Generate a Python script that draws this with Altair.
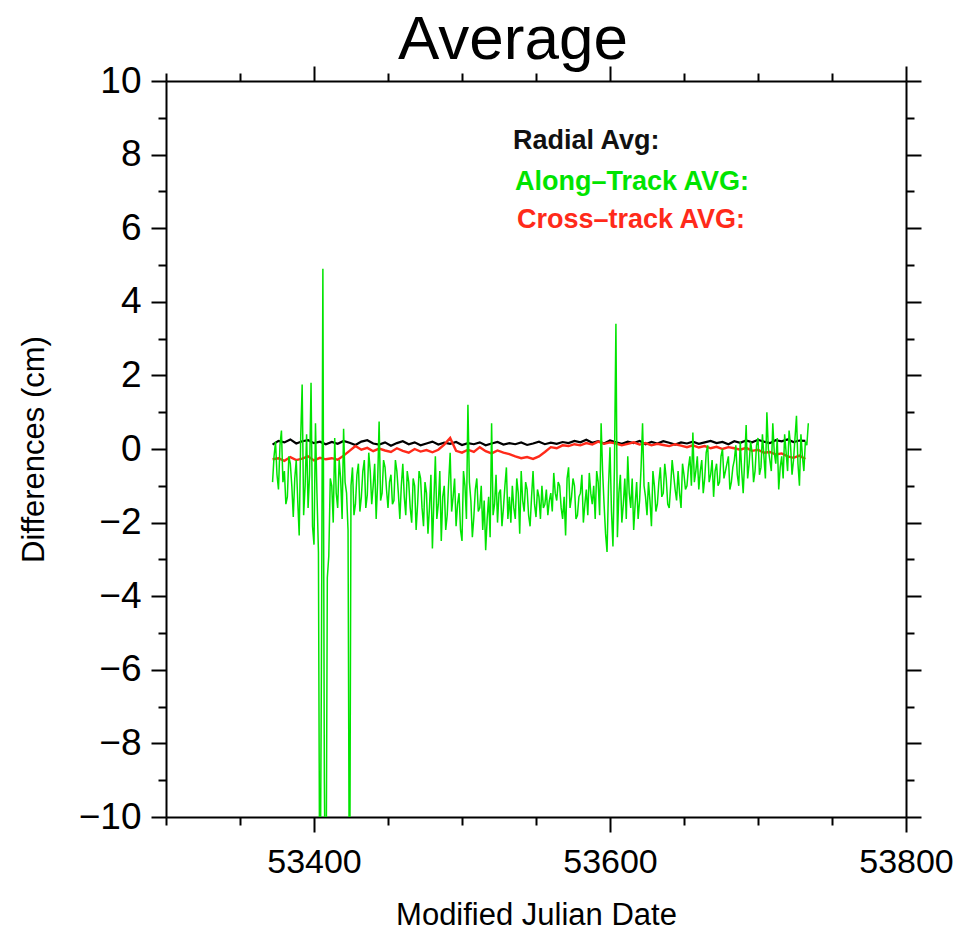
import altair as alt
import pandas as pd

# ---------------- data ----------------
# Along-track average, even-numbered days 53372..53734
along_days_even = list(range(53372, 53735, 2))
along_even = [
    -0.9, 0.2, -1.1, 0.5, -0.6, -1.3, -0.4, -1.85, -0.3, -2.35,
    1.75, -1.0, -1.6, 1.8, -2.6, -1.2, -14.0, 4.9, -14.0, -2.9,
    -1.0, 0.3, -1.6, -0.8, 0.55, -1.2, -14.0, -0.5, -1.5, -0.4,
    -1.3, -0.3, -1.25, -0.6, -1.0, -1.9, 0.75, -1.2, -0.5, -1.6,
    -0.7, -1.4, -0.6, -1.9, -0.4, -1.8, -0.9, -2.0, -1.0, -1.5,
    -0.8, -2.1, -1.2, -1.6, -2.7, -0.2, -1.5, -2.5, -1.0, -1.8,
    -0.1, -1.3, -2.1, -1.2, -2.5, -1.0, 1.2, -1.4, -1.85, -0.8,
    -1.6, -2.2, -2.75, -1.3, 0.7, -1.5, -2.0, -1.1, -1.6, -0.5,
    -1.3, -1.0, -1.9, -1.2, -0.6, -1.7, -1.1, -2.1, -0.6, -1.85,
    -1.3, -1.0, -1.5, -1.8, -1.2, -0.65, -1.4, -1.0, -1.9, -2.35,
    -0.5, -1.3, -1.0, -1.8, -1.2, -2.0, -1.1, -0.65, -1.5, -1.9,
    -0.9, 0.7, -1.5, -2.8, 0.05, -2.65, 3.4, -1.2, -2.0, -0.8,
    -0.2, -1.6, -2.2, -0.9, -1.4, 0.7, -1.3, -0.9, -2.1, -1.0,
    -1.5, -0.5, -1.2, -0.8, -1.6, -0.3, -1.1, -0.6, -1.6, -0.7,
    -1.0, -0.2, 0.45, -0.6, -1.1, -0.3, -0.8, 0.1, -0.7, -1.3,
    -0.4, -0.9, 0.0, -0.6, -0.2, -0.9, -0.3, -0.7, 0.2, -1.2,
    0.65, -0.4, -0.1, -0.6, 0.3, -0.5, -0.2, 1.0, -0.3, 0.7,
    -0.4, -1.1, -0.2, 0.4, -0.6, 0.1, -0.3, 0.9, -1.0, -0.2, 0.2, 0.7,
]
# Along-track average, odd-numbered days 53373..53733
along_days_odd = list(range(53373, 53734, 2))
along_odd = [
    -0.2, -0.7, 0.1, -0.9, -1.5, -0.2, -1.0, -0.8, -1.4, 0.3,
    -1.8, 0.4, -0.7, -2.1, 0.7, -2.8, -6.0, -9.0, -3.5, -0.8,
    -2.0, -1.2, -0.3, -1.9, -0.9, -2.2, -1.0, -1.8, -0.7, -1.7,
    -0.6, -1.6, -0.1, -1.5, -0.4, -0.9, -1.4, -0.3, -1.1, -0.9,
    -1.5, -0.3, -1.2, -1.0, -1.3, -0.6, -1.6, -0.8, -2.2, -0.6,
    -1.6, -0.9, -2.3, -0.7, -1.4, -1.9, -0.6, -1.3, -2.2, -0.9,
    -1.7, -0.8, -1.5, -2.2, -0.6, -1.9, -0.9, -2.4, -1.1, -1.7,
    -1.0, -1.4, -1.9, -2.4, -1.8, -0.7, -1.2, -2.1, -1.0, -1.9,
    -2.0, -1.6, -0.8, -2.3, -1.4, -0.9, -1.8, -1.3, -1.5, -1.1,
    -1.9, -1.6, -1.1, -1.4, -1.7, -1.2, -0.9, -1.6, -1.3, -0.8,
    -1.6, -0.8, -1.9, -1.3, -0.7, -1.5, -1.8, -1.2, -1.0, -0.6,
    -1.8, -0.6, -2.3, -1.0, -1.7, -0.5, -2.4, -0.7, -1.5, -1.9,
    -1.2, -0.8, -1.5, -1.9, -0.5, -1.0, -1.8, -1.4, -0.6, -1.7,
    -0.9, -1.3, -0.4, -1.5, -1.0, -0.7, -1.4, -1.2, -0.4, -1.1,
    -0.5, -1.0, -0.9, -0.2, -0.6, -1.2, -0.1, -0.9, -0.3, -0.6,
    -1.0, -0.2, -0.8, -0.4, -1.1, -0.5, 0.1, -1.0, -0.6, -0.3,
    -0.8, 0.2, -0.9, 0.1, -0.7, 0.4, -0.8, 0.0, -0.6, -0.1,
    0.3, -0.5, -0.8, -0.1, 0.5, -0.7, 0.3, -0.4, 0.4, -0.6, 0.1,
]

rc_days = list(range(53372, 53733, 4))
radial = [
    0.12, 0.22, 0.18, 0.26, 0.15, 0.21, 0.24, 0.16, 0.20, 0.13,
    0.19, 0.14, 0.22, 0.17, 0.11, 0.20, 0.24, 0.15, 0.12, 0.18,
    0.09, 0.16, 0.21, 0.13, 0.18, 0.10, 0.15, 0.20, 0.12, 0.17,
    0.14, 0.19, 0.11, 0.16, 0.13, 0.18, 0.10, 0.15, 0.19, 0.12,
    0.16, 0.13, 0.18, 0.11, 0.15, 0.20, 0.13, 0.17, 0.14, 0.19,
    0.16, 0.22, 0.18, 0.25, 0.17, 0.21, 0.15, 0.23, 0.18, 0.14,
    0.20, 0.16, 0.22, 0.13, 0.19, 0.15, 0.21, 0.17, 0.12, 0.18,
    0.15, 0.20, 0.14, 0.18, 0.22, 0.16, 0.19, 0.13, 0.21, 0.17,
    0.23, 0.18, 0.25, 0.20, 0.16, 0.24, 0.21, 0.26, 0.19, 0.23, 0.22,
]
cross_track = [
    -0.28, -0.25, -0.32, -0.22, -0.30, -0.26, -0.20, -0.31, -0.24, -0.28,
    -0.25, -0.29, -0.18, -0.05, 0.08, -0.02, 0.03, -0.06, 0.01, -0.04,
    -0.08, 0.02, -0.05, -0.10, 0.00, -0.07, -0.03, -0.09, -0.02, 0.12,
    0.30, -0.05, -0.10, -0.02, -0.08, 0.05, -0.06, -0.12, -0.04, -0.10,
    -0.14, -0.20, -0.25, -0.22, -0.27, -0.20, -0.08, 0.05, 0.02, 0.10,
    0.08, 0.13, 0.10, 0.16, 0.12, 0.20, 0.14, 0.18, 0.15, 0.10,
    0.14, 0.18, 0.12, 0.16, 0.10, 0.14, 0.11, 0.08, 0.13, 0.09,
    0.05, 0.10, 0.04, 0.08, 0.02, 0.06, 0.00, 0.05, 0.02, -0.02,
    0.03, -0.05, -0.02, -0.10, -0.08, -0.15, -0.12, -0.20, -0.24, -0.18, -0.27,
]

legend_labels = ["Radial Avg:", "Along\u2013Track AVG:", "Cross\u2013track AVG:"]

x_major_vals = [53400, 53600, 53800]
x_minor_vals = [53300, 53350, 53450, 53500, 53550, 53650, 53700, 53750]
y_major_vals = [-10, -8, -6, -4, -2, 0, 2, 4, 6, 8, 10]
y_minor_vals = [-9, -7, -5, -3, -1, 1, 3, 5, 7, 9]

# ---------------- styling ----------------
FONT = "Liberation Sans"
GREEN = "#00e400"
RED = "#ff2a1a"

df_along = pd.DataFrame({
    "mjd": along_days_even + along_days_odd,
    "along": along_even + along_odd,
}).sort_values("mjd")
df_rc = pd.DataFrame({"mjd": rc_days, "radial": radial, "cross": cross_track})

xs = alt.Scale(domain=[53300, 53800], nice=False, zero=False)
ys = alt.Scale(domain=[-10, 10], nice=False, zero=False)

base = dict(grid=False, domainColor="black", domainWidth=2, tickColor="black",
            tickWidth=2, labelFont=FONT, labelColor="black",
            titleFont=FONT, titleColor="black", titleFontWeight="normal")


def ax(orient, values, size, labels=False, domain=True, **kw):
    opts = dict(base)
    opts.update(kw)
    return alt.Axis(orient=orient, values=values, tickSize=size, labels=labels,
                    domain=domain, **opts)


x_bottom_major = ax("bottom", x_major_vals, 15, labels=True, format="d",
                    labelFontSize=34, labelPadding=13, labelFlush=False,
                    labelOverlap=False, title="Modified Julian Date",
                    titleFontSize=31, titlePadding=21)
x_bottom_minor = ax("bottom", x_minor_vals, 8, domain=False, title=None)
x_top_major = ax("top", x_major_vals, 15, title=None)
x_top_minor = ax("top", x_minor_vals, 8, domain=False, title=None)
y_left_major = ax("left", y_major_vals, 15, labels=True, format="d",
                  labelFontSize=37, labelPadding=10, labelFlush=False,
                  labelOverlap=False, title="Differences (cm)", titleFontSize=31,
                  titlePadding=28)
y_left_minor = ax("left", y_minor_vals, 8, domain=False, title=None)
y_right_major = ax("right", y_major_vals, 15, title=None)
y_right_minor = ax("right", y_minor_vals, 8, domain=False, title=None)

l_radial = alt.Chart(df_rc).mark_line(color="black", strokeWidth=2.2, clip=True).encode(
    x=alt.X("mjd:Q", scale=xs, axis=x_bottom_major),
    y=alt.Y("radial:Q", scale=ys, axis=y_left_major),
)
l_cross = alt.Chart(df_rc).mark_line(color=RED, strokeWidth=2.4, clip=True).encode(
    x=alt.X("mjd:Q", scale=xs, axis=x_bottom_minor),
    y=alt.Y("cross:Q", scale=ys, axis=y_left_minor),
)
l_along = alt.Chart(df_along).mark_line(color=GREEN, strokeWidth=1.5, clip=True).encode(
    x=alt.X("mjd:Q", scale=xs, axis=x_top_major),
    y=alt.Y("along:Q", scale=ys, axis=y_right_major),
)
l_axes = alt.Chart(df_along).mark_line(opacity=0, clip=True).encode(
    x=alt.X("mjd:Q", scale=xs, axis=x_top_minor),
    y=alt.Y("along:Q", scale=ys, axis=y_right_minor),
)

one = pd.DataFrame({"a": [0]})
legend_colors = ["#111111", GREEN, RED]
legend_pos = [(347, 68), (349, 109), (351, 147)]
texts = []
for lab, col, (px, py) in zip(legend_labels, legend_colors, legend_pos):
    texts.append(
        alt.Chart(one).mark_text(text=lab, color=col, font=FONT, fontSize=27,
                                 fontWeight="bold", align="left", baseline="alphabetic")
        .encode(x=alt.value(px), y=alt.value(py))
    )

chart = (
    alt.layer(l_radial, l_cross, l_along, l_axes, *texts)
    .resolve_axis(x="independent", y="independent")
    .properties(
        width=740, height=736,
        title=alt.TitleParams("Average", font=FONT, fontSize=62, fontWeight="normal",
                              color="black", anchor="middle", baseline="alphabetic",
                              offset=1, dx=-23, dy=60),
        padding={"left": 166, "top": 81, "right": 49, "bottom": 118},
        autosize=alt.AutoSizeParams(type="none"),
        background="white",
    )
    .configure_view(stroke=None)
)

chart.save("out.html", embed_options={"renderer": "svg", "actions": False})
